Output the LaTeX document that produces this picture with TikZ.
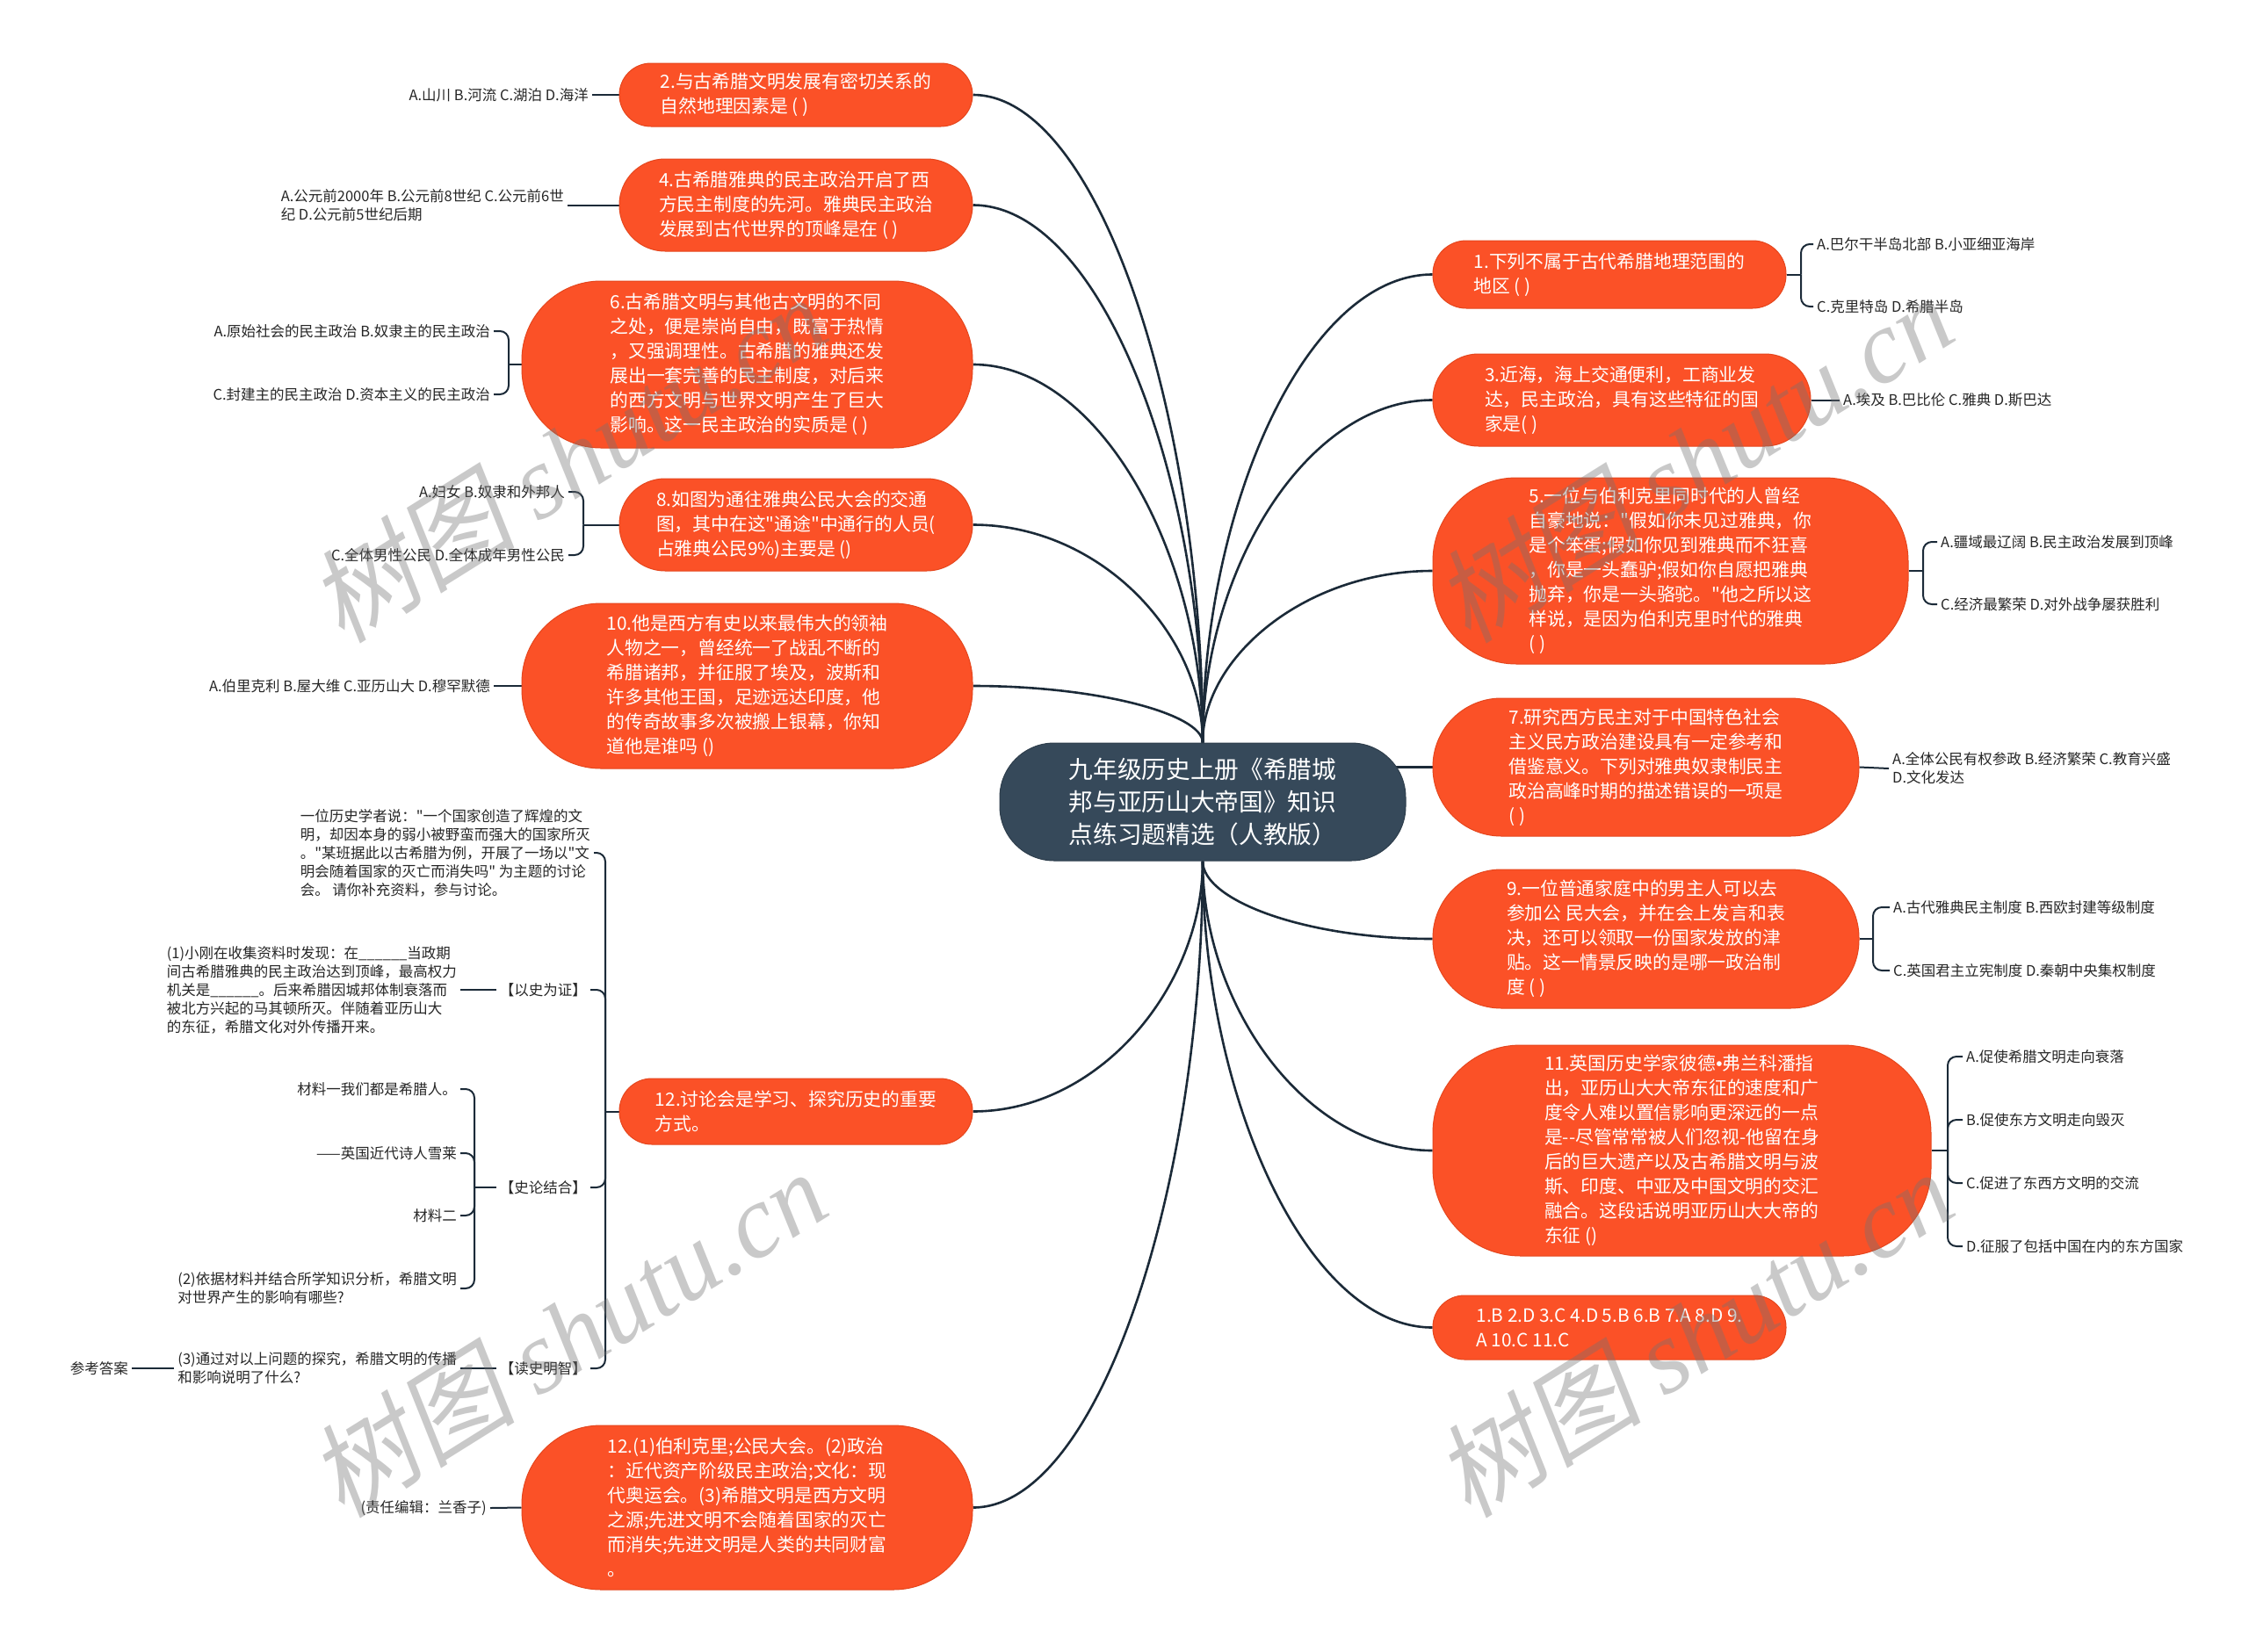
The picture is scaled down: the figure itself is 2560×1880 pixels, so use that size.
\documentclass[tikz,border=0pt]{standalone}
\usepackage{fontspec}
\setmainfont{Noto Sans CJK SC}
\newfontfamily\cjkf{Noto Sans CJK SC}
\newfontfamily\latf{Liberation Sans}
\newfontfamily\wmlat{Liberation Serif}
\newfontfamily\wmcjk[FakeSlant=0.18]{Noto Sans CJK SC}
\pgfdeclarelayer{bg}
\pgfdeclarelayer{wm}
\pgfsetlayers{bg,main,wm}
\definecolor{qorange}{HTML}{FB5127}
\definecolor{qborder}{HTML}{E5461D}
\definecolor{cdark}{HTML}{36495A}
\definecolor{lineclr}{HTML}{1B2A38}
\newcommand\qfnt{\cjkf\fontsize{20.8pt}{28pt}\selectfont}
\newcommand\optfnt{\cjkf\fontsize{16.5pt}{21pt}\selectfont}
\newcommand\cfnt{\cjkf\fontsize{27.7pt}{36.7pt}\selectfont}
\tikzset{
  qbox/.style={fill=qorange, draw=qborder, line width=1pt, text=white, font=\qfnt, align=left, inner sep=0pt},
  cbox/.style={fill=cdark, draw=cdark!85!black, line width=1pt, text=white, font=\cfnt, align=left, inner sep=0pt},
  opt/.style={font=\optfnt, text=black!85, align=left, inner sep=4pt},
  main/.style={draw=lineclr, line width=2.6pt},
  sub/.style={draw=lineclr, line width=2pt, rounded corners=10pt},
  wmark/.style={text=black!55, opacity=0.38, font=\fontsize{118pt}{120pt}\selectfont, inner sep=0pt, rotate=32}
}
\begin{document}
\begin{tikzpicture}[x=1pt,y=-1pt]
\useasboundingbox (0,0) rectangle (2560,1880);

% center
\node[cbox, minimum width=462pt, minimum height=134pt, rounded corners=62pt] (c) at (1369,913)
 {九年级历史上册《希腊城\\邦与亚历山大帝国》知识\\点练习题精选（人教版）};

% left question nodes
\node[qbox, minimum width=402pt, minimum height=72pt, rounded corners=36pt] (q2) at (906,108)
 {2.与古希腊文明发展有密切关系的\\自然地理因素是 ( )};
\node[qbox, minimum width=402pt, minimum height=105pt, rounded corners=52pt] (q4) at (906,233.5)
 {4.古希腊雅典的民主政治开启了西\\方民主制度的先河。雅典民主政治\\发展到古代世界的顶峰是在 ( )};
\node[qbox, minimum width=513pt, minimum height=190pt, rounded corners=90pt] (q6) at (850.5,415)
 {6.古希腊文明与其他古文明的不同\\之处，便是崇尚自由，既富于热情\\，又强调理性。古希腊的雅典还发\\展出一套完善的民主制度，对后来\\的西方文明与世界文明产生了巨大\\影响。这一民主政治的实质是 ( )};
\node[qbox, minimum width=402pt, minimum height=105pt, rounded corners=52pt] (q8) at (906,597.5)
 {8.如图为通往雅典公民大会的交通\\图，其中在这"通途"中通行的人员(\\占雅典公民9\%)主要是 ()};
\node[qbox, minimum width=513pt, minimum height=188pt, rounded corners=90pt] (q10) at (850.5,781)
 {10.他是西方有史以来最伟大的领袖\\人物之一，曾经统一了战乱不断的\\希腊诸邦，并征服了埃及，波斯和\\许多其他王国，足迹远达印度，他\\的传奇故事多次被搬上银幕，你知\\道他是谁吗 ()};
\node[qbox, minimum width=402pt, minimum height=75pt, rounded corners=37pt] (q12) at (906,1265.5)
 {12.讨论会是学习、探究历史的重要\\方式。};
\node[qbox, minimum width=513pt, minimum height=187pt, rounded corners=90pt] (a12) at (850.5,1716.5)
 {12.(1)伯利克里;公民大会。(2)政治\\：近代资产阶级民主政治;文化：现\\代奥运会。(3)希腊文明是西方文明\\之源;先进文明不会随着国家的灭亡\\而消失;先进文明是人类的共同财富\\。};

% right question nodes
\node[qbox, minimum width=402pt, minimum height=77pt, rounded corners=38pt] (q1) at (1832,312.5)
 {1.下列不属于古代希腊地理范围的\\地区 ( )};
\node[qbox, minimum width=430pt, minimum height=105pt, rounded corners=52pt] (q3) at (1846,455.5)
 {3.近海，海上交通便利，工商业发\\达，民主政治，具有这些特征的国\\家是( )};
\node[qbox, minimum width=541pt, minimum height=212pt, rounded corners=95pt] (q5) at (1901.5,650)
 {5.一位与伯利克里同时代的人曾经\\自豪地说："假如你未见过雅典，你\\是个笨蛋;假如你见到雅典而不狂喜\\，你是一头蠢驴;假如你自愿把雅典\\抛弃，你是一头骆驼。"他之所以这\\样说，是因为伯利克里时代的雅典\\( )};
\node[qbox, minimum width=485pt, minimum height=157pt, rounded corners=78pt] (q7) at (1873.5,873.5)
 {7.研究西方民主对于中国特色社会\\主义民方政治建设具有一定参考和\\借鉴意义。下列对雅典奴隶制民主\\政治高峰时期的描述错误的一项是\\( )};
\node[qbox, minimum width=485pt, minimum height=158pt, rounded corners=78pt] (q9) at (1873.5,1069)
 {9.一位普通家庭中的男主人可以去\\参加公 民大会，并在会上发言和表\\决，还可以领取一份国家发放的津\\贴。这一情景反映的是哪一政治制\\度 ( )};
\node[qbox, minimum width=567pt, minimum height=240pt, rounded corners=100pt] (q11) at (1914.5,1310)
 {11.英国历史学家彼德{\latf •}弗兰科潘指\\出，亚历山大大帝东征的速度和广\\度令人难以置信影响更深远的一点\\是--尽管常常被人们忽视-他留在身\\后的巨大遗产以及古希腊文明与波\\斯、印度、中亚及中国文明的交汇\\融合。这段话说明亚历山大大帝的\\东征 ()};
\node[qbox, minimum width=402pt, minimum height=73pt, rounded corners=36pt] (ans) at (1832,1511.5)
 {1.B 2.D 3.C 4.D 5.B 6.B 7.A 8.D 9.\\A 10.C 11.C};

% right options
\node[opt, anchor=west] (o1a) at (2064,278) {A.巴尔干半岛北部 B.小亚细亚海岸};
\node[opt, anchor=west] (o1b) at (2064,349) {C.克里特岛 D.希腊半岛};
\node[opt, anchor=west] (o3) at (2094,455.5) {A.埃及 B.巴比伦 C.雅典 D.斯巴达};
\node[opt, anchor=west] (o5a) at (2205,617) {A.疆域最辽阔 B.民主政治发展到顶峰};
\node[opt, anchor=west] (o5b) at (2205,688) {C.经济最繁荣 D.对外战争屡获胜利};
\node[opt, anchor=west] (o7) at (2150,875) {A.全体公民有权参政 B.经济繁荣 C.教育兴盛\\D.文化发达};
\node[opt, anchor=west] (o9a) at (2151,1033) {A.古代雅典民主制度 B.西欧封建等级制度};
\node[opt, anchor=west] (o9b) at (2151,1105) {C.英国君主立宪制度 D.秦朝中央集权制度};
\node[opt, anchor=west] (o11a) at (2234,1203) {A.促使希腊文明走向衰落};
\node[opt, anchor=west] (o11b) at (2234,1275) {B.促使东方文明走向毁灭};
\node[opt, anchor=west] (o11c) at (2234,1347) {C.促进了东西方文明的交流};
\node[opt, anchor=west] (o11d) at (2234,1419) {D.征服了包括中国在内的东方国家};

% left options
\node[opt, anchor=east] (o2) at (674,108) {A.山川 B.河流 C.湖泊 D.海洋};
\node[opt, anchor=east] (o4) at (646,233.5) {A.公元前2000年 B.公元前8世纪 C.公元前6世\\纪 D.公元前5世纪后期};
\node[opt, anchor=east] (o6a) at (562,377) {A.原始社会的民主政治 B.奴隶主的民主政治};
\node[opt, anchor=east] (o6b) at (562,449) {C.封建主的民主政治 D.资本主义的民主政治};
\node[opt, anchor=east] (o8a) at (647,560) {A.妇女 B.奴隶和外邦人};
\node[opt, anchor=east] (o8b) at (647,632) {C.全体男性公民 D.全体成年男性公民};
\node[opt, anchor=east] (o10) at (562,781) {A.伯里克利 B.屋大维 C.亚历山大 D.穆罕默德};

% Q12 children
\node[opt, anchor=east] (intro) at (676,971) {一位历史学者说："一个国家创造了辉煌的文\\明，却因本身的弱小被野蛮而强大的国家所灭\\。"某班据此以古希腊为例，开展了一场以"文\\明会随着国家的灭亡而消失吗" 为主题的讨论\\会。 请你补充资料，参与讨论。};
\node[opt, anchor=east] (l1) at (672,1127) {【以史为证】};
\node[opt, anchor=east] (l2) at (672,1352) {【史论结合】};
\node[opt, anchor=east] (l3) at (672,1558) {【读史明智】};
\node[opt, anchor=east] (t1) at (524,1127) {(1)小刚在收集资料时发现：在\_\_\_\_\_\_当政期\\间古希腊雅典的民主政治达到顶峰，最高权力\\机关是\_\_\_\_\_\_。后来希腊因城邦体制衰落而\\被北方兴起的马其顿所灭。伴随着亚历山大\\的东征，希腊文化对外传播开来。};
\node[opt, anchor=east] (m1) at (524,1240) {材料一我们都是希腊人。};
\node[opt, anchor=east] (m2) at (524,1313) {——英国近代诗人雪莱};
\node[opt, anchor=east] (m3) at (524,1384) {材料二};
\node[opt, anchor=east] (m4) at (524,1467) {(2)依据材料并结合所学知识分析，希腊文明\\对世界产生的影响有哪些?};
\node[opt, anchor=east] (t3) at (524,1558) {(3)通过对以上问题的探究，希腊文明的传播\\和影响说明了什么?};
\node[opt, anchor=east] (ck) at (150,1558) {参考答案};
\node[opt, anchor=east] (ed) at (558,1717) {(责任编辑：兰香子)};

% junction coordinates
\coordinate (j1) at (2050,312.5);
\coordinate (j5) at (2189,650);
\coordinate (j9) at (2132,1069);
\coordinate (j11) at (2217,1310);
\coordinate (j6) at (579,415);
\coordinate (j8) at (664,597.5);
\coordinate (j12) at (689,1265.5);
\coordinate (jl2) at (540,1352);

\begin{pgfonlayer}{bg}
\fill[white] (0,0) rectangle (2560,1880);
% main connectors
\draw[main] (c.north) .. controls +(0,-369) and +(144,0) .. (q2.east);
\draw[main] (c.north) .. controls +(0,-306) and +(144,0) .. (q4.east);
\draw[main] (c.north) .. controls +(0,-215) and +(144,0) .. (q6.east);
\draw[main] (c.north) .. controls +(0,-124) and +(144,0) .. (q8.east);
\draw[main] (c.north) .. controls +(0,-32) and +(144,0) .. (q10.east);
\draw[main] (c.south) .. controls +(0,143) and +(144,0) .. (q12.east);
\draw[main] (c.south) .. controls +(0,368) and +(144,0) .. (a12.east);
\draw[main] (c.north) .. controls +(0,-267) and +(-144,0) .. (q1.west);
\draw[main] (c.north) .. controls +(0,-195) and +(-144,0) .. (q3.west);
\draw[main] (c.north) .. controls +(0,-98) and +(-144,0) .. (q5.west);
\draw[main] (c.center |- q7.west) -- (q7.west);
\draw[main] (c.south) .. controls +(0,45) and +(-144,0) .. (q9.west);
\draw[main] (c.south) .. controls +(0,165) and +(-144,0) .. (q11.west);
\draw[main] (c.south) .. controls +(0,265) and +(-144,0) .. (ans.west);
% right option connectors
\draw[sub] (q1.east) -- (j1);
\draw[sub] (j1) |- (o1a.west);
\draw[sub] (j1) |- (o1b.west);
\draw[sub] (q3.east) -- (o3.west);
\draw[sub] (q5.east) -- (j5);
\draw[sub] (j5) |- (o5a.west);
\draw[sub] (j5) |- (o5b.west);
\draw[sub] (q7.east) -- (o7.west);
\draw[sub] (q9.east) -- (j9);
\draw[sub] (j9) |- (o9a.west);
\draw[sub] (j9) |- (o9b.west);
\draw[sub] (q11.east) -- (j11);
\draw[sub] (j11) |- (o11a.west);
\draw[sub] (j11) |- (o11b.west);
\draw[sub] (j11) |- (o11c.west);
\draw[sub] (j11) |- (o11d.west);
% left option connectors
\draw[sub] (q2.west) -- (o2.east);
\draw[sub] (q4.west) -- (o4.east);
\draw[sub] (q6.west) -- (j6);
\draw[sub] (j6) |- (o6a.east);
\draw[sub] (j6) |- (o6b.east);
\draw[sub] (q8.west) -- (j8);
\draw[sub] (j8) |- (o8a.east);
\draw[sub] (j8) |- (o8b.east);
\draw[sub] (q10.west) -- (o10.east);
% Q12 tree
\draw[sub] (q12.west) -- (j12);
\draw[sub] (j12) |- (intro.east);
\draw[sub] (j12) |- (l1.east);
\draw[sub] (j12) |- (l2.east);
\draw[sub] (j12) |- (l3.east);
\draw[sub] (l1.west) -- (t1.east);
\draw[sub] (l2.west) -- (jl2);
\draw[sub] (jl2) |- (m1.east);
\draw[sub] (jl2) |- (m2.east);
\draw[sub] (jl2) |- (m3.east);
\draw[sub] (jl2) |- (m4.east);
\draw[sub] (l3.west) -- (t3.east);
\draw[sub] (t3.west) -- (ck.east);
\draw[sub] (a12.west) -- (ed.east);
\end{pgfonlayer}

\begin{pgfonlayer}{wm}
\node[wmark] (wm1) at (646,522) {{\wmcjk 树图} {\wmlat\itshape shutu.cn}};
\node[wmark] (wm2) at (1928,522) {{\wmcjk 树图} {\wmlat\itshape shutu.cn}};
\node[wmark] (wm3) at (646,1518) {{\wmcjk 树图} {\wmlat\itshape shutu.cn}};
\node[wmark] (wm4) at (1928,1518) {{\wmcjk 树图} {\wmlat\itshape shutu.cn}};
\end{pgfonlayer}
\end{tikzpicture}
\end{document}
